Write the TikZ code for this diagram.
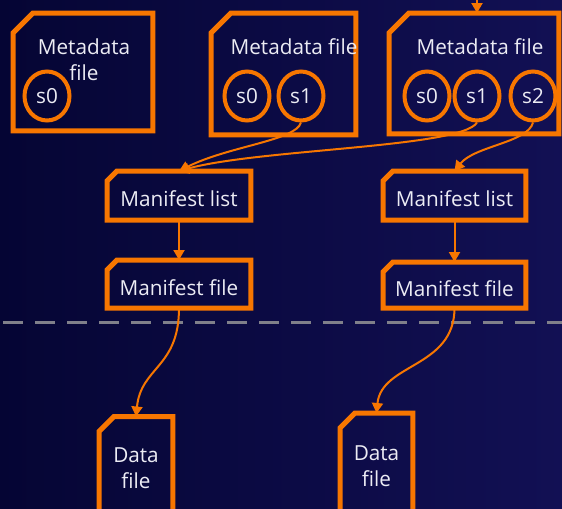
\documentclass[tikz,border=0pt]{standalone}
\usepackage{fontspec}
\setmainfont{Open Sans}
\usetikzlibrary{arrows.meta,shapes.geometric}

\definecolor{awsorange}{RGB}{247,118,0}
\definecolor{bgleft}{RGB}{5,5,52}
\definecolor{bgright}{RGB}{18,16,84}
\definecolor{dashgray}{RGB}{128,128,138}
\definecolor{textwhite}{RGB}{236,236,244}

% outline of a file: node name, size of the cut corner
\newcommand{\filebox}[2]{%
  \draw[awsorange, line width=1mm, line join=miter]
    ([yshift=-#2]#1.north west) -- ([xshift=#2]#1.north west) -- (#1.north east)
    -- (#1.south east) -- (#1.south west) -- cycle;}

\tikzset{
  link/.style={draw=awsorange, line width=0.4mm, -{Triangle[width=2.2mm,length=2mm]}},
}

\begin{document}
\begin{tikzpicture}[x=0.02cm, y=-0.02cm, font=\fontsize{11.8}{14.6}\selectfont, text=textwhite]

        \useasboundingbox (0,0) rectangle (562,508);
        \fill[left color=bgleft, right color=bgright] (0,0) rectangle (562,508);

        \coordinate (cutl) at (0,322);
        \coordinate (cutr) at (562,322);
        \draw[dashgray, line width=0.6mm, dash pattern=on 4mm off 2.4mm, dash phase=-0.6mm] (cutl) -- (cutr);

        \begin{scope}[every node/.style={outer sep=0, inner sep=0, text depth=0pt, text height=13pt}]
          \node[minimum width=2.80cm, minimum height=2.36cm] (md1) at (83,72)    {};
          \node[minimum width=2.90cm, minimum height=2.44cm] (md2) at (283.5,74) {};
          \node[minimum width=3.40cm, minimum height=2.42cm] (md3) at (474,73.5) {};
          \node[minimum width=2.88cm, minimum height=0.98cm] (ml1) at (179,195.5) {Manifest list};
          \node[minimum width=2.88cm, minimum height=0.96cm] (mf1) at (179,284)   {Manifest file};
          \node[minimum width=2.86cm, minimum height=0.98cm] (ml2) at (454.5,195.5) {Manifest list};
          \node[minimum width=2.86cm, minimum height=0.92cm] (mf2) at (454.5,285)   {Manifest file};
        \end{scope}

        \begin{scope}[every node/.style={outer sep=0, inner sep=0, align=center}]
          \node[minimum width=1.48cm, minimum height=2.06cm] (df1) at (136,468)   {Data\\file};
          \node[minimum width=1.46cm, minimum height=2.14cm] (df2) at (376.5,466.5) {Data\\file};
        \end{scope}

        \filebox{md1}{4mm}
        \filebox{md2}{4mm}
        \filebox{md3}{4mm}
        \filebox{ml1}{2mm}
        \filebox{mf1}{2mm}
        \filebox{ml2}{2mm}
        \filebox{mf2}{2mm}
        \filebox{df1}{3mm}
        \filebox{df2}{3mm}

        \node[align=center] (t1) at (84,60)  {Metadata\\file};
        \node (t2) at (294,47) {Metadata file};
        \node (t3) at (480,47) {Metadata file};

        \begin{scope}[every node/.style={ellipse, draw=awsorange, line width=0.8mm,
            minimum width=0.9cm, minimum height=0.98cm, inner sep=0}]
          \node (a0) at (47,96)  {s0};
          \node (b0) at (247,96) {s0};
          \node (b1) at (301,96) {s1};
          \node (c0) at (427,96) {s0};
          \node (c1) at (477,96) {s1};
          \node (c2) at (533,96) {s2};
        \end{scope}

        \coordinate (feed) at (477,-10);
        \draw[link] (feed) -- (feed |- md3.north);

        \draw[link] (b1.south) .. controls +(-5,18) and +(50,-25) .. (ml1.north);
        \draw[link] (c1.south) .. controls +(-15,25) and +(80,-22) .. (ml1.north);
        \draw[link] (c2.south) .. controls +(-5,20) and +(20,-25) .. (ml2.north);
        \draw[link] (ml1) -- (mf1);
        \draw[link] (ml2) -- (mf2);
        \draw[link] (mf1.south) .. controls +(0,60) and +(5,-50) .. (df1.north);
        \draw[link] (mf2.south) .. controls +(0,60) and +(5,-50) .. (df2.north);

      \end{tikzpicture}
\end{document}
